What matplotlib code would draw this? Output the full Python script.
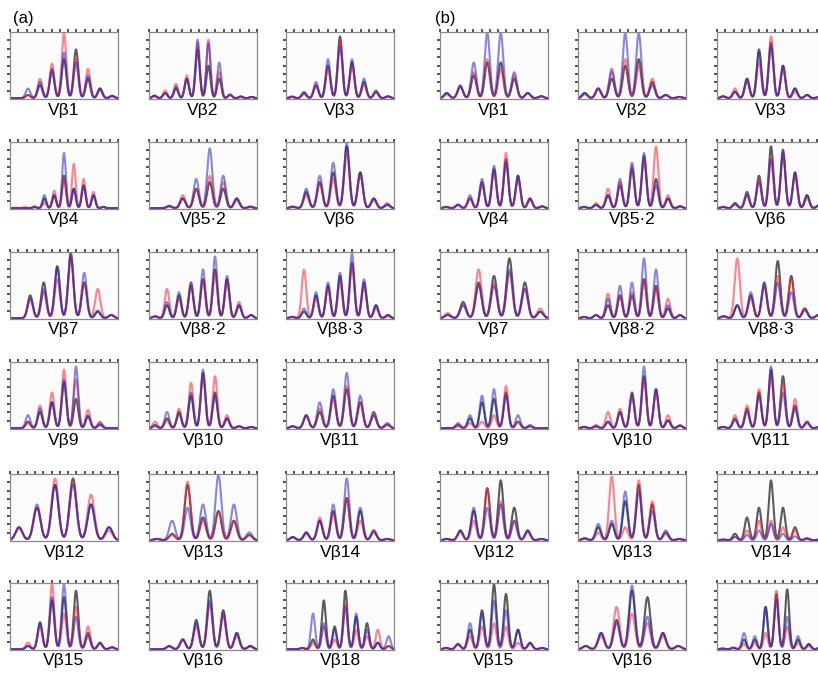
import numpy as np
import matplotlib
matplotlib.use("Agg")
from matplotlib import pyplot as plt

plt.rcParams['font.family'] = ['Liberation Sans', 'DejaVu Sans']

# panel names, row by row (3 per row)
labels_a = ["Vβ1", "Vβ2", "Vβ3", "Vβ4", "Vβ5·2", "Vβ6",
            "Vβ7", "Vβ8·2", "Vβ8·3", "Vβ9", "Vβ10", "Vβ11",
            "Vβ12", "Vβ13", "Vβ14", "Vβ15", "Vβ16", "Vβ18"]
labels_b = list(labels_a)

# peak heights (fraction of panel height) per CDR3 length, black / red / blue traces
black_a = [
    [0, .05, .2, .45, .6, .75, .3, .15, .04],
    [.04, .08, .15, .3, .75, .5, .3, .05, .03, .02],
    [.02, .08, .2, .5, .95, .55, .25, .1, .03],
    [0, 0, .02, .15, .2, .5, .3, .35, .2, .02, 0],
    [0, .03, .15, .3, .4, .3, .15, .02],
    [.02, .25, .4, .55, .95, .55, .15, .05],
    [0, .35, .55, .8, 1.0, .55, .1, .05],
    [.03, .2, .35, .5, .6, .75, .6, .2, .05],
    [.02, .1, .35, .5, .65, .85, .55, .2, .05],
    [0, .1, .25, .4, .7, .45, .18, .05, 0],
    [.05, .15, .25, .5, .85, .55, .15, .03, .02],
    [.03, .2, .25, .5, .6, .4, .2, .05],
    [.2, .5, .85, .95, .55, .2],
    [.02, .1, .85, .35, .45, .3, .08],
    [.05, .12, .3, .45, .65, .45, .15, .02],
    [0, .05, .4, .75, .8, .9, .25, .1, .03],
    [0, .05, .15, .45, .9, .6, .25, .05],
    [0, .02, .15, .75, .35, .9, .5, .4, .1, .05],
]
red_a = [
    [0, .05, .3, .53, 1.0, .6, .45, .12, .03],
    [.03, .12, .22, .35, .85, .9, .4, .05, .02, .02],
    [.02, .06, .18, .45, .9, .5, .2, .08, .02],
    [.01, .02, .03, .08, .27, .45, .68, .45, .25, .02, 0],
    [0, .03, .2, .3, .5, .4, .12, .02],
    [.02, .2, .4, .45, .85, .5, .12, .08],
    [0, .3, .4, .6, .98, .55, .45, .05],
    [.03, .45, .3, .55, .6, .7, .55, .25, .05],
    [.02, .75, .3, .45, .55, .8, .5, .15, .03],
    [0, .08, .35, .55, .9, .75, .28, .1, 0],
    [.1, .12, .3, .7, .8, .8, .2, .03, .02],
    [.03, .18, .3, .45, .65, .4, .25, .06],
    [.18, .5, .95, .9, .7, .15],
    [.02, .08, .9, .3, .45, .3, .08],
    [.04, .1, .35, .4, .65, .3, .15, .02],
    [0, .1, .35, 1.0, .55, .65, .35, .08, .03],
    [0, .04, .15, .35, .7, .5, .2, .04],
    [0, .02, .1, .35, .15, .7, .3, .2, .3, .05],
]
blue_a = [
    [0, .15, .25, .4, .7, .55, .35, .15, .03],
    [.04, .08, .18, .3, .9, .85, .55, .06, .02, .02],
    [.03, .1, .25, .6, .8, .6, .3, .12, .03],
    [0, 0, .02, .2, .2, .85, .3, .35, .2, .02, 0],
    [0, .04, .15, .45, .92, .5, .15, .03],
    [.03, .3, .5, .7, 1.0, .55, .15, .06],
    [0, .3, .45, .78, .95, .7, .12, .05],
    [.03, .25, .4, .55, .75, .95, .65, .2, .05],
    [.02, .15, .4, .55, .7, 1.0, .6, .2, .05],
    [0, .2, .3, .4, .75, .95, .2, .08, 0],
    [.03, .25, .22, .55, .9, .5, .15, .03, .02],
    [.03, .2, .4, .6, .85, .5, .25, .08],
    [.2, .55, .85, .85, .55, .2],
    [.02, .3, .5, .55, 1.0, .55, .12],
    [.05, .12, .3, .55, .95, .5, .12, .02],
    [0, .05, .42, .8, 1.0, .5, .2, .1, .03],
    [0, .05, .15, .4, .75, .55, .25, .05],
    [0, .02, .55, .4, .3, .65, .55, .3, .1, .2],
]
black_b = [
    [.08, .18, .35, .55, .55, .3, .08, .03],
    [.08, .15, .3, .5, .6, .25, .05, .02],
    [.03, .1, .3, .75, .85, .5, .15, .05, .02],
    [.02, .05, .15, .4, .6, .75, .5, .15, .03],
    [.02, .05, .2, .35, .6, .8, .45, .15, .03],
    [.02, .08, .25, .5, .95, .9, .55, .2, .05],
    [.05, .25, .55, .65, .92, .55, .1],
    [.02, .05, .2, .35, .35, .6, .5, .15, .05],
    [.03, .2, .35, .55, .88, .65, .15, .05],
    [0, .05, .15, .4, .45, .55, .1, .03, 0],
    [.02, .03, .1, .25, .55, .8, .6, .12, .04],
    [.02, .15, .3, .55, .9, .8, .35, .1, .02],
    [.02, .15, .45, .8, .92, .5, .15, .02],
    [.03, .2, .25, .6, .85, .55, .12, .02],
    [.01, .1, .35, .5, .92, .5, .2, .03, .01],
    [.02, .08, .3, .6, 1.0, .85, .3, .1, .02],
    [.05, .25, .45, .9, .8, .25, .05],
    [.01, .02, .15, .15, .65, .85, .92, .15, .08, .02],
]
red_b = [
    [.06, .18, .4, .6, .45, .35, .08, .03],
    [.06, .15, .4, .6, .5, .3, .05, .02],
    [.03, .15, .25, .55, .95, .45, .1, .05, .02],
    [.02, .05, .15, .35, .55, .85, .45, .12, .03],
    [.02, .08, .3, .4, .65, .75, .95, .2, .03],
    [.02, .06, .2, .45, .8, .85, .5, .15, .04],
    [.08, .2, .75, .55, .7, .45, .15],
    [.02, .05, .38, .35, .4, .6, .45, .3, .05],
    [.03, .92, .3, .5, .65, .6, .15, .05],
    [0, .03, .08, .1, .2, .65, .1, .03, 0],
    [.02, .05, .25, .3, .5, .75, .55, .2, .05],
    [.02, .2, .35, .6, .8, .7, .45, .1, .02],
    [.02, .12, .3, .8, .6, .3, .12, .02],
    [.02, .12, .98, .2, .92, .6, .1, .02],
    [.01, .05, .15, .3, .3, .2, .15, .03, .01],
    [.02, .08, .2, .35, .4, .35, .1, .08, .02],
    [.05, .2, .65, .55, .4, .2, .05],
    [.01, .03, .08, .1, .25, .9, .35, .1, .05, .02],
]
blue_b = [
    [.08, .2, .55, 1.0, 1.0, .4, .08, .03],
    [.08, .15, .45, 1.0, 1.0, .2, .05, .02],
    [.03, .1, .3, .7, .8, .5, .15, .05, .02],
    [.02, .06, .2, .45, .65, .7, .5, .15, .03],
    [.02, .05, .2, .45, .7, .85, .35, .15, .03],
    [.02, .06, .2, .4, .75, .85, .55, .2, .05],
    [.05, .2, .5, .5, .75, .45, .1],
    [.02, .05, .3, .5, .55, .92, .75, .2, .05],
    [.03, .2, .4, .5, .55, .4, .12, .05],
    [0, .08, .2, .5, .6, .5, .2, .05, 0],
    [.02, .03, .1, .25, .5, .95, .6, .12, .04],
    [.02, .12, .25, .5, .95, .55, .3, .08, .02],
    [.02, .15, .5, .5, .55, .3, .15, .02],
    [.03, .25, .3, .75, .75, .45, .15, .02],
    [.01, .05, .08, .15, .25, .1, .06, .02, .01],
    [.02, .08, .4, .55, .75, .6, .3, .1, .02],
    [.05, .25, .4, .98, .5, .25, .05],
    [.01, .02, .25, .2, .65, .75, .5, .2, .08, .02],
]

W, H = 818, 674
fig = plt.figure(figsize=(W / 100, H / 100), dpi=100)

col_left = {"a": [10, 149, 286], "b": [440, 578, 717]}
row_top = [32, 142, 252, 362, 474, 583]
pw, ph = 108, 67

trace_styles = [("#111111", 0.68), ("#ff2035", 0.55), ("#2828c8", 0.55)]


def trace(heights, x):
    h = np.asarray(heights, dtype=float)
    y = np.zeros_like(x) + 0.012
    for i, v in enumerate(h):
        y += v * np.exp(-0.5 * ((x - i) / 0.19) ** 2)
    return y


def panel(left, top, label, series):
    ax = fig.add_axes([left / W, 1 - (top + ph) / H, pw / W, ph / H])
    n = len(series[0])
    x = np.linspace(-0.5, n - 0.5, 600)
    for (col, al), hts in zip(trace_styles, series):
        ax.plot(x, trace(hts, x), color=col, alpha=al, lw=1.5)
    ax.set_xlim(-0.5, n - 0.5)
    ax.set_ylim(0, 1.03)
    ax.set_facecolor("#fbfbfb")
    for s in ax.spines.values():
        s.set_color("#8a8a8a")
        s.set_linewidth(0.9)
    ax.xaxis.set_ticks_position("top")
    ax.set_xticks(np.linspace(-0.5, n - 0.5, 14))
    ax.set_yticks(np.linspace(0, 1.03, 9)[1:-1])
    ax.tick_params(axis="both", direction="out", length=2.2, width=1.2,
                   color="#333333", labeltop=False, labelleft=False,
                   labelbottom=False)
    fig.text((left + pw / 2) / W, 1 - (top + ph + 11) / H, label,
             ha="center", va="center", fontsize=12.5)


for side, labels, k, r, b in [("a", labels_a, black_a, red_a, blue_a),
                              ("b", labels_b, black_b, red_b, blue_b)]:
    for idx, lab in enumerate(labels):
        row, col = divmod(idx, 3)
        panel(col_left[side][col], row_top[row], lab, (k[idx], r[idx], b[idx]))

fig.text(13 / W, 1 - 19 / H, "(a)", ha="left", va="center", fontsize=12)
fig.text(435 / W, 1 - 19 / H, "(b)", ha="left", va="center", fontsize=12)

fig.savefig("out.png", dpi=100)
